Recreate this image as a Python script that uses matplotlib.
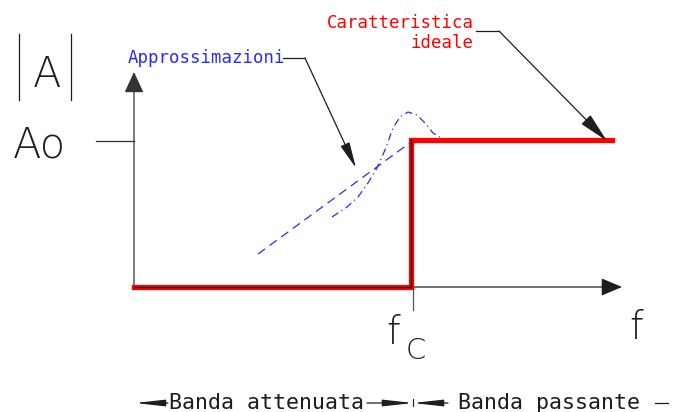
import matplotlib

matplotlib.use("Agg")
import matplotlib.pyplot as plt

# drawing is laid out in pixel units of the original sheet (679 x 412, y down)
SHEET_W = 679
SHEET_H = 412

# ideal characteristic (red step)
IDEAL_X = [134, 411, 411, 612]
IDEAL_Y = [287, 287, 140, 140]

# straight dashed approximation
APPROX_LINE_X = [258, 411]
APPROX_LINE_Y = [254, 142]

# dash-dot approximation with overshoot
APPROX_CURVE_X = [332, 347, 358, 368, 377, 385, 393, 400, 408, 417, 425, 433, 440]
APPROX_CURVE_Y = [217, 207, 197, 183, 168, 150, 128, 117, 112, 115, 123, 133, 137]

# axes
ORIGIN = (134, 287)
X_TIP = (622, 287)
Y_TIP = (134, 72)
AO_LEVEL = 141
FC_POS = 413

RED = "#ff0000"
BLUE = "#2a2aff"
INK = "#1e1e1e"
BIG_FONT = ["DejaVu Sans"]
SMALL_FONT = ["DejaVu Sans Mono"]


def arrow(ax, tip, tail, length, half_width, lw=0.9, color=INK):
    ax.annotate(
        "",
        xy=tip,
        xytext=tail,
        arrowprops=dict(
            arrowstyle=f"-|>,head_length={length},head_width={half_width}",
            color=color,
            lw=lw,
            shrinkA=0,
            shrinkB=0,
        ),
    )


def label(ax, x, y, text, size, color=INK, ha="left"):
    ax.text(x, y, text, fontsize=size, color=color, ha=ha, va="baseline",
            family=BIG_FONT, fontweight="light")


def note(ax, x, y, text, size, color=INK, ha="left"):
    ax.text(x, y, text, fontsize=size, color=color, ha=ha, va="baseline",
            family=SMALL_FONT)


def main() -> None:
    fig = plt.figure(figsize=(SHEET_W / 100, SHEET_H / 100), dpi=100)
    ax = fig.add_axes([0, 0, 1, 1])
    ax.set_xlim(0, SHEET_W)
    ax.set_ylim(SHEET_H, 0)
    ax.axis("off")

    # axes with arrowheads
    arrow(ax, X_TIP, ORIGIN, 1.3, 0.55)
    arrow(ax, Y_TIP, ORIGIN, 1.3, 0.6, color="#333333")
    ax.plot([96, ORIGIN[0]], [AO_LEVEL, AO_LEVEL], color="#333333", lw=0.9)
    ax.plot([FC_POS, FC_POS], [ORIGIN[1], 310], color="#555555", lw=0.9)

    # approximations
    ax.plot(APPROX_LINE_X, APPROX_LINE_Y, color=BLUE, lw=0.9, linestyle=(0, (7, 4.5)))
    ax.plot(APPROX_CURVE_X, APPROX_CURVE_Y, color=BLUE, lw=0.9,
            linestyle=(0, (6, 3, 1, 3)))

    # ideal step
    ax.plot(IDEAL_X, IDEAL_Y, color=RED, lw=3.8, solid_joinstyle="miter", zorder=3)
    ax.plot(IDEAL_X[:3], IDEAL_Y[:3], color="black", lw=0.9, zorder=4)

    # |A| and Ao
    ax.plot([19, 19], [34, 100], color=INK, lw=0.9)
    ax.plot([71, 71], [34, 100], color=INK, lw=0.9)
    label(ax, 33, 87, "A", 30)
    label(ax, 13, 157, "Ao", 30)

    # frequency labels
    label(ax, 386, 344, "f", 28)
    label(ax, 406, 359, "C", 21)
    label(ax, 629, 339, "f", 28)

    # callouts
    note(ax, 128, 63, "Approssimazioni", 12.5, color=BLUE)
    ax.plot([283, 305], [58, 58], color=INK, lw=0.9)
    arrow(ax, (356, 168), (305, 58), 1.6, 0.3)

    note(ax, 474, 28, "Caratteristica", 12.5, color=RED, ha="right")
    note(ax, 474, 48, "ideale", 12.5, color=RED, ha="right")
    ax.plot([476, 499], [31, 31], color=INK, lw=0.9)
    arrow(ax, (607, 141), (499, 31), 1.9, 0.4)

    # band annotations
    band_y = 403
    arrow(ax, (135, band_y), (168, band_y), 1.8, 0.2)
    note(ax, 169, 409, "Banda attenuata", 15.6)
    arrow(ax, (FC_POS, band_y), (367, band_y), 1.8, 0.2)
    arrow(ax, (FC_POS, band_y), (448, band_y), 1.8, 0.2)
    ax.plot([FC_POS, FC_POS], [399, 406], color=INK, lw=0.8)
    note(ax, 458, 409, "Banda passante", 15.6)
    ax.plot([655, 668], [band_y, band_y], color=INK, lw=0.9)

    fig.savefig("out.png", dpi=100)
    plt.close(fig)


if __name__ == "__main__":
    main()
